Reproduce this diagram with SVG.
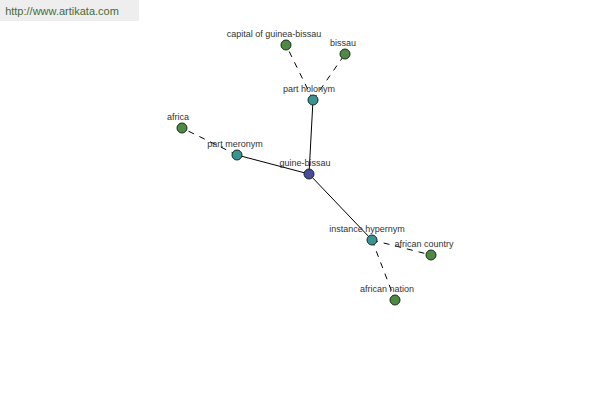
<svg xmlns="http://www.w3.org/2000/svg" width="600" height="400" viewBox="0 0 600 400">
<style>
text{font-family:"Liberation Sans",Arial,sans-serif;font-size:9px;fill:#333;text-anchor:middle}
.n circle{stroke:#1a2a1a;stroke-width:1}
.g circle{fill:#4f8a45}
.t circle{fill:#3a9494}
.b circle{fill:#4a4a9c}
.solid{stroke:#000;stroke-width:1;fill:none}
.dash{stroke:#000;stroke-width:1;fill:none;stroke-dasharray:6,6}
</style>
<rect x="0" y="0" width="139" height="21" fill="#eeeeee"/>
<text x="62" y="15" style="font-size:11px;fill:#4a6a3a">http://www.artikata.com</text>
<g id="connectors">
<line class="solid" x1="309" y1="174" x2="313" y2="100"/>
<line class="solid" x1="309" y1="174" x2="237" y2="155"/>
<line class="solid" x1="309" y1="174" x2="372" y2="240"/>
<line class="dash" x1="313" y1="100" x2="286" y2="45"/>
<line class="dash" x1="313" y1="100" x2="345" y2="54"/>
<line class="dash" x1="237" y1="155" x2="182" y2="128"/>
<line class="dash" x1="372" y1="240" x2="431" y2="255"/>
<line class="dash" x1="372" y1="240" x2="395" y2="300"/>
</g>
<g id="guine-bissau" class="n b"><circle cx="309" cy="174" r="5"/><text x="305" y="166">guine-bissau</text></g>
<g id="part-holonym" class="n t"><circle cx="313" cy="100" r="5"/><text x="309" y="92">part holonym</text></g>
<g id="capital" class="n g"><circle cx="286" cy="45" r="5"/><text x="274" y="37">capital of guinea-bissau</text></g>
<g id="bissau" class="n g"><circle cx="345" cy="54" r="5"/><text x="343" y="46">bissau</text></g>
<g id="part-meronym" class="n t"><circle cx="237" cy="155" r="5"/><text x="235" y="147">part meronym</text></g>
<g id="africa" class="n g"><circle cx="182" cy="128" r="5"/><text x="178" y="120">africa</text></g>
<g id="instance-hypernym" class="n t"><circle cx="372" cy="240" r="5"/><text x="367" y="232">instance hypernym</text></g>
<g id="african-country" class="n g"><circle cx="431" cy="255" r="5"/><text x="424" y="247">african country</text></g>
<g id="african-nation" class="n g"><circle cx="395" cy="300" r="5"/><text x="387" y="292">african nation</text></g>
</svg>
